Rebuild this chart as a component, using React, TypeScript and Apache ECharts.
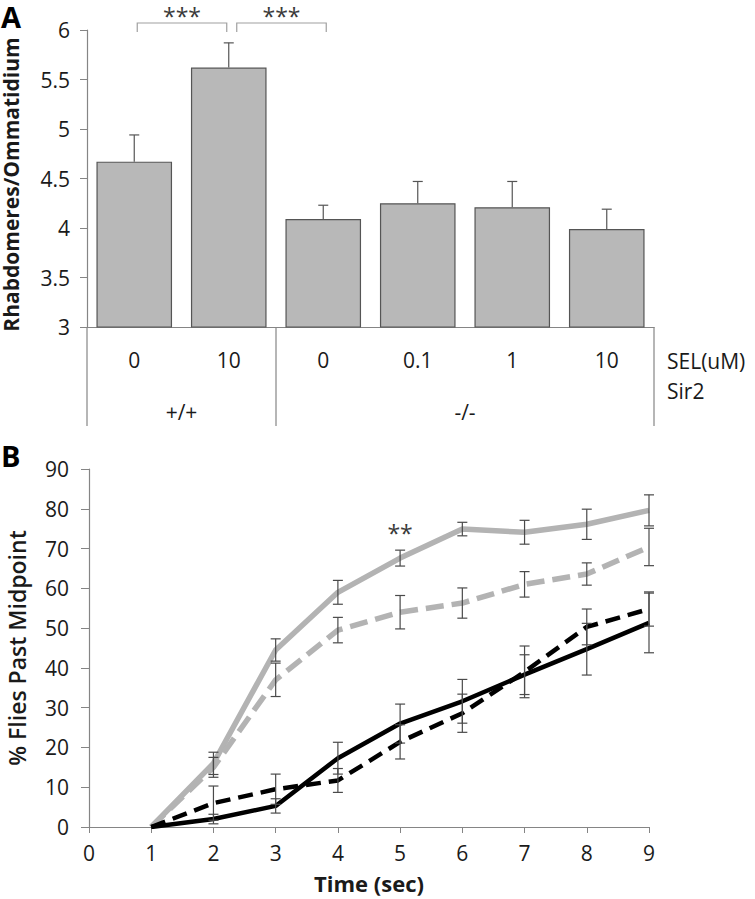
import React, { useEffect, useRef } from "react";
import * as echarts from "echarts";

// ---------- Panel A data ----------
const selLabels = ["0", "10", "0", "0.1", "1", "10"];
const sirGroups = ["+/+", "-/-"];
const sirGroupSizes = [2, 4];
const rhabdomeres = [4.67, 5.62, 4.09, 4.25, 4.21, 3.99];
const rhabdomeresErr = [0.27, 0.25, 0.14, 0.22, 0.26, 0.2];

// ---------- Panel B data ----------
const times = [1, 2, 3, 4, 5, 6, 7, 8, 9];
const graySolid = [0, 16, 44.5, 59, 67.6, 74.9, 74.1, 76.1, 79.6];
const graySolidErr = [0, 2.8, 2.8, 3, 2, 1.7, 3, 3.8, 3.9];
const grayDashed = [0, 15, 37, 49.5, 54, 56.3, 61, 63.6, 70.4];
const grayDashedErr = [0, 2.5, 4.2, 3.2, 4.2, 3.8, 3.2, 2.8, 4.7];
const blackSolid = [0, 2, 5.3, 17.3, 26, 31.6, 38.3, 44.7, 51.3];
const blackSolidErr = [0, 1.2, 1.8, 4, 4.9, 5.5, 5, 6.5, 7.5];
const blackDashed = [0, 6, 9.5, 11.7, 21.4, 28.6, 39, 50.3, 54.8];
const blackDashedErr = [0, 4.3, 3.8, 3, 4.3, 4.8, 6.5, 4.5, 4.3];

const FONT = "'Open Sans', 'Noto Sans', sans-serif";
const TXT = "#1a1a1a";
const AXIS = "#858585";
const TICK_FS = 21;

export default function App() {
  const ref = useRef<HTMLDivElement>(null);

  useEffect(() => {
    if (!ref.current) return;
    const chart = echarts.init(ref.current, null, { renderer: "svg" });

    const errRender = (capW: number, upOnly: boolean, color: string) =>
      (params: any, api: any) => {
        const x = api.value(0);
        const y = api.value(1);
        const e = api.value(2);
        if (!e) return null;
        const top = api.coord([x, y + e]);
        const bot = upOnly ? api.coord([x, y]) : api.coord([x, y - e]);
        const st = { stroke: color, lineWidth: 1.2 };
        const children: any[] = [
          { type: "line", shape: { x1: top[0], y1: top[1], x2: bot[0], y2: bot[1] }, style: st },
          { type: "line", shape: { x1: top[0] - capW / 2, y1: top[1], x2: top[0] + capW / 2, y2: top[1] }, style: st },
        ];
        if (!upOnly) {
          children.push({ type: "line", shape: { x1: bot[0] - capW / 2, y1: bot[1], x2: bot[0] + capW / 2, y2: bot[1] }, style: st });
        }
        return { type: "group", children };
      };

    const lineSeries = (name: string, vals: number[], color: string, width: number, dashed: number[] | null, z: number) => ({
      name,
      type: "line",
      xAxisIndex: 1,
      yAxisIndex: 1,
      data: times.map((t, i) => [t, vals[i]]),
      symbol: "none",
      z,
      lineStyle: { color, width, type: dashed ? dashed : "solid", cap: "butt", join: "round" },
    });

    const errSeries = (vals: number[], errs: number[]) => ({
      type: "custom",
      xAxisIndex: 1,
      yAxisIndex: 1,
      z: 10,
      renderItem: errRender(10, false, "#4a4a4a"),
      data: times.map((t, i) => [t, vals[i], errs[i]]),
    });

    const option: any = {
      animation: false,
      grid: [
        { left: 87, top: 30, width: 567, height: 297, containLabel: false, outerBoundsMode: "none" },
        { left: 89, top: 469, width: 560, height: 358, containLabel: false, outerBoundsMode: "none" },
      ],
      xAxis: [
        {
          type: "category",
          gridIndex: 0,
          data: selLabels,
          axisLine: { lineStyle: { color: AXIS, width: 1.2 } },
          axisTick: { show: false },
          axisLabel: { color: TXT, fontSize: TICK_FS, fontFamily: FONT, margin: 22 },
        },
        {
          type: "value",
          gridIndex: 1,
          min: 0,
          max: 9,
          interval: 1,
          splitLine: { show: false },
          axisLine: { lineStyle: { color: AXIS, width: 1.2 } },
          axisTick: { show: true, length: 6, lineStyle: { color: AXIS } },
          axisLabel: { color: TXT, fontSize: TICK_FS, fontFamily: FONT, margin: 15 },
          name: "Time (sec)",
          nameLocation: "middle",
          nameGap: 45,
          nameTextStyle: { color: TXT, fontSize: 22, fontWeight: "bold", fontFamily: FONT },
        },
      ],
      yAxis: [
        {
          type: "value",
          gridIndex: 0,
          min: 3,
          max: 6,
          interval: 0.5,
          splitLine: { show: false },
          axisLine: { show: true, lineStyle: { color: AXIS, width: 1.2 } },
          axisTick: { show: true, length: 7, lineStyle: { color: AXIS } },
          axisLabel: { color: TXT, fontSize: TICK_FS, fontFamily: FONT, margin: 17 },
          name: "Rhabdomeres/Ommatidium",
          nameLocation: "middle",
          nameGap: 66,
          nameTextStyle: { color: TXT, fontSize: 21, fontWeight: "bold", fontFamily: FONT, padding: [0, 12, 0, 0] },
        },
        {
          type: "value",
          gridIndex: 1,
          min: 0,
          max: 90,
          interval: 10,
          splitLine: { show: false },
          axisLine: { show: true, lineStyle: { color: AXIS, width: 1.2 } },
          axisTick: { show: true, length: 8, lineStyle: { color: AXIS } },
          axisLabel: { color: TXT, fontSize: TICK_FS, fontFamily: FONT, margin: 20 },
          name: "% Flies Past Midpoint",
          nameLocation: "middle",
          nameGap: 61,
          nameTextStyle: { color: TXT, fontSize: 23, fontWeight: 600, fontFamily: FONT },
        },
      ],
      series: [
        {
          type: "bar",
          xAxisIndex: 0,
          yAxisIndex: 0,
          data: rhabdomeres,
          barCategoryGap: "20%",
          itemStyle: { color: "#b8b8b8", borderColor: "#555555", borderWidth: 1.2 },
        },
        {
          type: "custom",
          xAxisIndex: 0,
          yAxisIndex: 0,
          z: 10,
          renderItem: errRender(10, true, "#555555"),
          data: rhabdomeres.map((v, i) => [i, v, rhabdomeresErr[i]]),
        },
        lineSeries("gray solid", graySolid, "#b3b3b3", 5.5, null, 2),
        lineSeries("gray dashed", grayDashed, "#b3b3b3", 5.5, [18, 8], 2),
        lineSeries("black solid", blackSolid, "#000000", 4.5, null, 3),
        lineSeries("black dashed", blackDashed, "#000000", 4.5, [15, 8], 3),
        errSeries(graySolid, graySolidErr),
        errSeries(grayDashed, grayDashedErr),
        errSeries(blackSolid, blackSolidErr),
        errSeries(blackDashed, blackDashedErr),
      ],
    };

    chart.setOption(option);

    // Annotations computed from axis positions
    const pA = (i: number, v: number) => chart.convertToPixel({ xAxisIndex: 0, yAxisIndex: 0 }, [i, v]) as number[];
    const pB = (x: number, v: number) => chart.convertToPixel({ xAxisIndex: 1, yAxisIndex: 1 }, [x, v]) as number[];
    const c0 = pA(0, 3);
    const c1 = pA(1, 3);
    const c2 = pA(2, 3);
    const step = c1[0] - c0[0];
    const axisY = c0[1];
    const leftEdge = c0[0] - step / 2;
    const top6 = pA(0, 6)[1];
    const brY = top6 - 7;
    const brBot = top6 + 2;
    const grayBr = { stroke: "#a0a0a0", lineWidth: 1.2, fill: null };

    const elems: any[] = [];
    elems.push({ type: "text", left: 1, top: 2, style: { text: "A", font: `bold 29px ${FONT}`, fill: "#000" } });
    elems.push({ type: "text", left: 1, top: 441, style: { text: "B", font: `bold 29px ${FONT}`, fill: "#000" } });

    const bracket = (x1: number, x2: number) => ({
      type: "polyline",
      shape: { points: [[x1, brBot], [x1, brY], [x2, brY], [x2, brBot]] },
      style: grayBr,
    });
    const b1a = c0[0] + 3, b1b = c1[0] - 2;
    const b2a = c1[0] + 8, b2b = c2[0] + 3;
    elems.push(bracket(b1a, b1b));
    elems.push(bracket(b2a, b2b));
    const starStyle = { font: `23px ${FONT}`, fill: "#3a3a3a", align: "center", verticalAlign: "top" };
    elems.push({ type: "text", x: (b1a + b1b) / 2, y: 4, style: { ...starStyle, text: "***" } });
    elems.push({ type: "text", x: (b2a + b2b) / 2, y: 4, style: { ...starStyle, text: "***" } });

    // Group separators and group labels
    const sepBottom = axisY + 99;
    let idx = 0;
    const sepXs: number[] = [leftEdge];
    sirGroups.forEach((g, gi) => {
      const start = leftEdge + idx * step;
      idx += sirGroupSizes[gi];
      const end = leftEdge + idx * step;
      sepXs.push(end);
      elems.push({ type: "text", x: (start + end) / 2, y: axisY + 85, style: { text: g, font: `${TICK_FS}px ${FONT}`, fill: TXT, align: "center", verticalAlign: "middle" } });
    });
    sepXs.forEach((x) => {
      elems.push({ type: "line", shape: { x1: x, y1: axisY, x2: x, y2: sepBottom }, style: { stroke: AXIS, lineWidth: 1.2 } });
    });
    const rightEdge = sepXs[sepXs.length - 1];
    elems.push({ type: "text", x: rightEdge + 13, y: axisY + 34, style: { text: "SEL(uM)", font: `${TICK_FS}px ${FONT}`, fill: TXT, align: "left", verticalAlign: "middle" } });
    elems.push({ type: "text", x: rightEdge + 13, y: axisY + 64, style: { text: "Sir2", font: `${TICK_FS}px ${FONT}`, fill: TXT, align: "left", verticalAlign: "middle" } });

    const star = pB(5, 75);
    elems.push({ type: "text", x: star[0], y: star[1] - 7, style: { ...starStyle, text: "**" } });

    chart.setOption({ graphic: { elements: elems } });

    return () => chart.dispose();
  }, []);

  return <div ref={ref} style={{ width: 755, height: 899, position: "absolute", left: 0, top: 0 }} />;
}
